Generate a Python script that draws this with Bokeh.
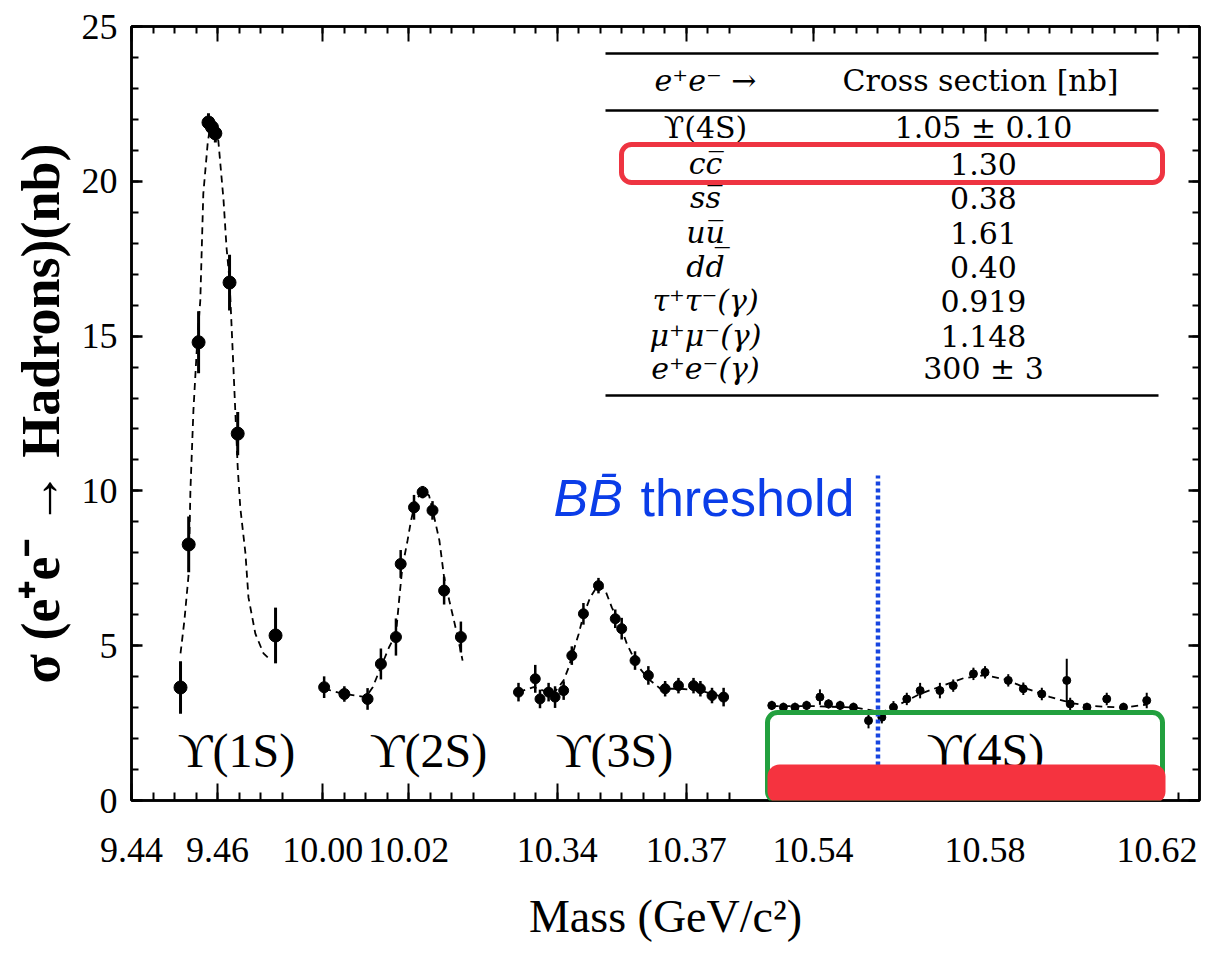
from bokeh.plotting import figure
from bokeh.models import (FixedTicker, CustomJSTickFormatter, LinearAxis, Range1d,
                          BoxAnnotation, SingleIntervalTicker, ColumnDataSource,
                          CustomLabelingPolicy)
from bokeh.core.properties import value
from bokeh.embed import file_html
from bokeh.resources import INLINE

# ---------------- data ----------------
# broken mass axis: start mass of each segment and its offset on the continuous axis
seg_start_mass = [9.44, 10.00, 10.33, 10.53]
seg_start_u = [0.0, 0.0445, 0.089, 0.1485]
axis_end_u = 0.248372

major_tick_mass = [9.44, 9.46, 10.00, 10.02, 10.34, 10.37, 10.54, 10.58, 10.62]
major_tick_labels = ["9.44", "9.46", "10.00", "10.02", "10.34", "10.37", "10.54", "10.58", "10.62"]
minor_tick_ranges = [(9.44, 9.475), (10.00, 10.035), (10.33, 10.38), (10.535, 10.625)]

# Upsilon(1S)
ups1_mass = [9.4514, 9.4533, 9.4556, 9.4579, 9.4587, 9.4595, 9.4628, 9.4647, 9.4735]
ups1_sigma = [3.65, 8.27, 14.8, 21.9, 21.75, 21.55, 16.73, 11.85, 5.33]
ups1_err = [0.85, 0.9, 1.0, 0.3, 0.3, 0.3, 0.9, 0.7, 0.9]
ups1_fit_mass = [9.4514, 9.4523, 9.4533, 9.4537, 9.4544, 9.4553, 9.4560, 9.4567, 9.4577, 9.4584,
                 9.4593, 9.4602, 9.4614, 9.4621, 9.4628, 9.4637, 9.4647, 9.4653, 9.4665, 9.4672,
                 9.4688, 9.4707, 9.4719]
ups1_fit_sigma = [4.75, 5.81, 7.33, 10.01, 12.6, 14.86, 16.15, 19.6, 21.2, 21.9,
                  21.83, 21.3, 19.4, 17.86, 16.8, 13.99, 10.76, 9.46, 7.98, 6.56,
                  5.39, 4.75, 4.59]

# Upsilon(2S)
ups2_mass = [10.0003, 10.0050, 10.0104, 10.0135, 10.0170, 10.0181, 10.0212, 10.0232, 10.0255, 10.0282, 10.0321]
ups2_sigma = [3.66, 3.44, 3.28, 4.41, 5.28, 7.64, 9.47, 9.96, 9.37, 6.78, 5.28]
ups2_err = [0.35, 0.25, 0.35, 0.5, 0.6, 0.45, 0.4, 0.2, 0.3, 0.45, 0.5]
ups2_fit_mass = [10.0003, 10.0050, 10.0100, 10.0116, 10.0135, 10.0154, 10.0170, 10.0178, 10.0185, 10.0197,
                 10.0205, 10.0216, 10.0232, 10.0247, 10.0259, 10.0271, 10.0282, 10.0294, 10.0305, 10.0317,
                 10.0325]
ups2_fit_sigma = [3.61, 3.44, 3.34, 3.66, 4.31, 4.95, 5.38, 6.57, 7.54, 8.40,
                  9.04, 9.69, 10.01, 9.85, 9.15, 8.40, 7.21, 6.46, 5.81, 5.06,
                  4.52]

# Upsilon(3S)
ups3_mass = [10.3310, 10.3349, 10.3360, 10.3380, 10.3395, 10.3415, 10.3434, 10.3461, 10.3496, 10.3535,
             10.3550, 10.3581, 10.3612, 10.3651, 10.3682, 10.3717, 10.3733, 10.3760, 10.3787]
ups3_sigma = [3.50, 3.93, 3.28, 3.50, 3.34, 3.55, 4.68, 6.03, 6.94, 5.87,
              5.55, 4.52, 4.04, 3.61, 3.71, 3.71, 3.61, 3.39, 3.34]
ups3_err = [0.3, 0.45, 0.3, 0.3, 0.35, 0.3, 0.3, 0.35, 0.25, 0.3,
            0.35, 0.3, 0.3, 0.25, 0.25, 0.25, 0.25, 0.25, 0.3]
ups3_fit_mass = [10.3310, 10.3345, 10.3391, 10.3415, 10.3427, 10.3438, 10.3450, 10.3461, 10.3477, 10.3496,
                 10.3512, 10.3527, 10.3547, 10.3562, 10.3577, 10.3593, 10.3612, 10.3640, 10.3686, 10.3733,
                 10.3787]
ups3_fit_sigma = [3.50, 3.66, 3.44, 3.88, 4.31, 4.84, 5.38, 5.98, 6.57, 6.98,
                  6.78, 6.24, 5.65, 5.06, 4.63, 4.25, 3.93, 3.61, 3.61, 3.55,
                  3.34]

# Upsilon(4S)
ups4_mass = [10.5304, 10.5331, 10.5358, 10.5385, 10.5416, 10.5436, 10.5463, 10.5494, 10.5529, 10.5560,
             10.5587, 10.5618, 10.5649, 10.5695, 10.5726, 10.5773, 10.5800, 10.5854, 10.5889, 10.5932,
             10.5990, 10.5998, 10.6037, 10.6083, 10.6122, 10.6176]
ups4_sigma = [3.07, 3.01, 3.01, 3.07, 3.34, 3.12, 3.07, 3.01, 2.58, 2.69,
              3.01, 3.28, 3.55, 3.55, 3.71, 4.09, 4.14, 3.88, 3.61, 3.44,
              3.88, 3.12, 3.01, 3.28, 3.01, 3.23]
ups4_err = [0.15, 0.15, 0.15, 0.15, 0.25, 0.15, 0.15, 0.15, 0.25, 0.2,
            0.2, 0.2, 0.25, 0.25, 0.2, 0.2, 0.2, 0.2, 0.2, 0.2,
            0.7, 0.2, 0.15, 0.2, 0.15, 0.25]
ups4_fit_mass = [10.5304, 10.5400, 10.5500, 10.5560, 10.5600, 10.5650, 10.5700, 10.5750, 10.5800,
                 10.5850, 10.5900, 10.5950, 10.6000, 10.6050, 10.6120, 10.6176]
ups4_fit_sigma = [3.05, 3.05, 3.0, 2.85, 3.1, 3.45, 3.7, 3.95, 4.05,
                  3.9, 3.6, 3.35, 3.15, 3.05, 3.0, 3.1]

bb_threshold_mass = 10.5551

table_header = ["e⁺e⁻ →", "Cross section [nb]"]
table_process = ["\u03d2(4S)", "cc̅", "ss̅", "uu̅", "dd̅", "τ⁺τ⁻(γ)", "μ⁺μ⁻(γ)", "e⁺e⁻(γ)"]
table_xsec = ["1.05 ± 0.10", "1.30", "0.38", "1.61", "0.40", "0.919", "1.148", "300 ± 3"]
resonance_labels = ["\u03d2(1S)", "\u03d2(2S)", "\u03d2(3S)", "\u03d2(4S)"]

# ---------------- helpers ----------------
def to_u(m):
    for k in reversed(range(len(seg_start_mass))):
        if m >= seg_start_mass[k] - 1e-9:
            return seg_start_u[k] + (m - seg_start_mass[k])
    return 0.0

# reference layout helpers (pixel of the reference picture -> data coords)
PXU = 4300.0
def ax(px):
    return (px - 131) / PXU
def ay(py):
    return (800 - py) / 30.96

major_u = [round(to_u(m), 6) for m in major_tick_mass]
minor_u = []
for a, b in minor_tick_ranges:
    n = int(round((b - a) / 0.005))
    for i in range(n + 1):
        minor_u.append(round(to_u(a + i * 0.005), 6))

SERIF = "Liberation Serif"

p = figure(frame_width=1068, frame_height=774, output_backend="svg", toolbar_location=None,
           x_range=Range1d(0, axis_end_u), y_range=Range1d(0, 25),
           min_border_left=131, min_border_top=26, min_border_right=2, min_border_bottom=10,
           background_fill_color="white", border_fill_color="white")
p.grid.visible = False
p.outline_line_color = "black"
p.outline_line_width = 2.5

fmt = CustomJSTickFormatter(args=dict(t=major_u, l=major_tick_labels), code="""
for (let i = 0; i < t.length; i++) { if (Math.abs(tick - t[i]) < 1e-6) return l[i]; }
return "";
""")

xa = p.xaxis[0]
xa.ticker = FixedTicker(ticks=major_u, minor_ticks=minor_u)
xa.formatter = fmt
xa.major_tick_in = 17
xa.major_tick_out = 0
xa.minor_tick_in = 8
xa.minor_tick_out = 0
xa.axis_line_width = 2.5
xa.major_tick_line_width = 2
xa.minor_tick_line_width = 2
xa.major_label_text_font = SERIF
xa.major_label_text_font_size = "36px"
xa.major_label_text_color = "black"
xa.major_label_standoff = 37
xa.axis_label = "Mass (GeV/c²)"
xa.axis_label_text_font = SERIF
xa.axis_label_text_font_size = "46px"
xa.axis_label_text_font_style = "normal"
xa.axis_label_text_color = "black"
xa.axis_label_standoff = 26

ya = p.yaxis[0]
ya.ticker = SingleIntervalTicker(interval=5, num_minor_ticks=5)
ya.major_tick_in = 11
ya.major_tick_out = 0
ya.minor_tick_in = 7
ya.minor_tick_out = 0
ya.axis_line_width = 2.5
ya.major_tick_line_width = 2.5
ya.minor_tick_line_width = 2
ya.major_label_text_font = SERIF
ya.major_label_text_font_size = "36px"
ya.major_label_text_color = "black"
ya.major_label_standoff = 14
ya.axis_label = "σ (e⁺e⁻ → Hadrons)(nb)"
ya.axis_label_text_font = SERIF
ya.axis_label_text_font_size = "54px"
ya.axis_label_text_font_style = "bold"
ya.axis_label_text_color = "black"
ya.axis_label_standoff = 8

hide_all = CustomLabelingPolicy(code="""
for (const i of indices) { indices.unset(i) }
return indices
""")
top = LinearAxis(ticker=FixedTicker(ticks=major_u, minor_ticks=minor_u),
                 major_label_policy=hide_all, major_label_text_font_size="10px",
                 major_tick_in=15, major_tick_out=0,
                 minor_tick_in=7, minor_tick_out=0, major_label_standoff=0,
                 axis_line_width=2.5, major_tick_line_width=2, minor_tick_line_width=2)
p.add_layout(top, "above")
right = LinearAxis(ticker=SingleIntervalTicker(interval=5, num_minor_ticks=5),
                   major_label_policy=hide_all, major_label_text_font_size="10px",
                   major_tick_in=11, major_tick_out=0,
                   minor_tick_in=7, minor_tick_out=0, major_label_standoff=0,
                   axis_line_width=2.5, major_tick_line_width=2.5, minor_tick_line_width=2)
p.add_layout(right, "right")

# ---------------- data marks ----------------
series = [
    (ups1_mass, ups1_sigma, ups1_err, ups1_fit_mass, ups1_fit_sigma, 13, 3),
    (ups2_mass, ups2_sigma, ups2_err, ups2_fit_mass, ups2_fit_sigma, 11, 2.5),
    (ups3_mass, ups3_sigma, ups3_err, ups3_fit_mass, ups3_fit_sigma, 10, 2.5),
    (ups4_mass, ups4_sigma, ups4_err, ups4_fit_mass, ups4_fit_sigma, 8, 2),
]
for mass, sig, err, fm, fs, msize, ew in series:
    fit = ColumnDataSource(dict(u=[to_u(m) for m in fm], s=fs))
    p.line("u", "s", source=fit, line_color="black", line_width=1.8, line_dash="7 5")
    src = ColumnDataSource(dict(u=[to_u(m) for m in mass], s=sig,
                                lo=[s - e for s, e in zip(sig, err)],
                                hi=[s + e for s, e in zip(sig, err)]))
    p.segment(x0="u", y0="lo", x1="u", y1="hi", source=src, line_color="black", line_width=ew)
    p.scatter("u", "s", source=src, size=msize, fill_color="black", line_color="black")

# resonance labels
lab_px = [236, 428, 614, 985]
p.text(x=[ax(v) for v in lab_px], y=[ay(750)] * 4, text=resonance_labels,
       text_font=value(SERIF), text_font_size="48px", text_align="center",
       text_baseline="middle", text_color="black")

# Y(4S) annotations: green box and red blob
p.add_layout(BoxAnnotation(left=ax(767), right=ax(1162), top=ay(712), bottom=ay(801),
                           fill_alpha=0, line_color="#22a03e", line_alpha=1, line_width=5,
                           border_radius=10))
p.add_layout(BoxAnnotation(left=ax(767), right=ax(1165), top=ay(764), bottom=ay(803),
                           fill_color="#f5333f", fill_alpha=1, line_alpha=0, border_radius=12))

# BB threshold
p.segment(x0=[to_u(bb_threshold_mass)], y0=[0], x1=[to_u(bb_threshold_mass)], y1=[ay(475)],
          line_color="#1745e0", line_width=4.5, line_dash="4 3")
p.text(x=[ax(553)], y=[ay(497)], text=["BB\u0304"], text_font=value("Liberation Sans"),
       text_font_style="italic", text_font_size="52px", text_color="#0b3de8",
       text_align="left", text_baseline="alphabetic")
p.text(x=[ax(640)], y=[ay(497)], text=["threshold"], text_font=value("Liberation Sans"),
       text_font_size="52px", text_color="#0b3de8", text_align="left", text_baseline="alphabetic")

# ---------------- inset table ----------------
TFONT = "DejaVu Serif"
p.segment(x0=[ax(605)] * 3, x1=[ax(1158)] * 3, y0=[ay(53), ay(110), ay(395)],
          y1=[ay(53), ay(110), ay(395)], line_color="black", line_width=2.5)
p.text(x=[ax(705)], y=[ay(80)], text=[table_header[0]], text_font=value(TFONT),
       text_font_style="italic", text_font_size="30px", text_align="center", text_baseline="middle")
p.text(x=[ax(980)], y=[ay(80)], text=[table_header[1]], text_font=value(TFONT),
       text_font_size="30px", text_align="center", text_baseline="middle")
row_py = [127, 163, 197, 232, 266, 300, 335, 368]
p.text(x=[ax(705)], y=[ay(row_py[0])], text=[table_process[0]], text_font=value(TFONT),
       text_font_size="30px", text_align="center", text_baseline="middle")
p.text(x=[ax(705)] * 7, y=[ay(v) for v in row_py[1:]], text=table_process[1:], text_font=value(TFONT),
       text_font_style="italic", text_font_size="30px", text_align="center", text_baseline="middle")
p.text(x=[ax(983)] * 8, y=[ay(v) for v in row_py], text=table_xsec, text_font=value(TFONT),
       text_font_size="30px", text_align="center", text_baseline="middle")
p.add_layout(BoxAnnotation(left=ax(621), right=ax(1162), top=ay(144), bottom=ay(182),
                           fill_alpha=0, line_color="#ee3441", line_alpha=1, line_width=5,
                           border_radius=10))

open("out.html", "w").write(file_html(p, INLINE))
